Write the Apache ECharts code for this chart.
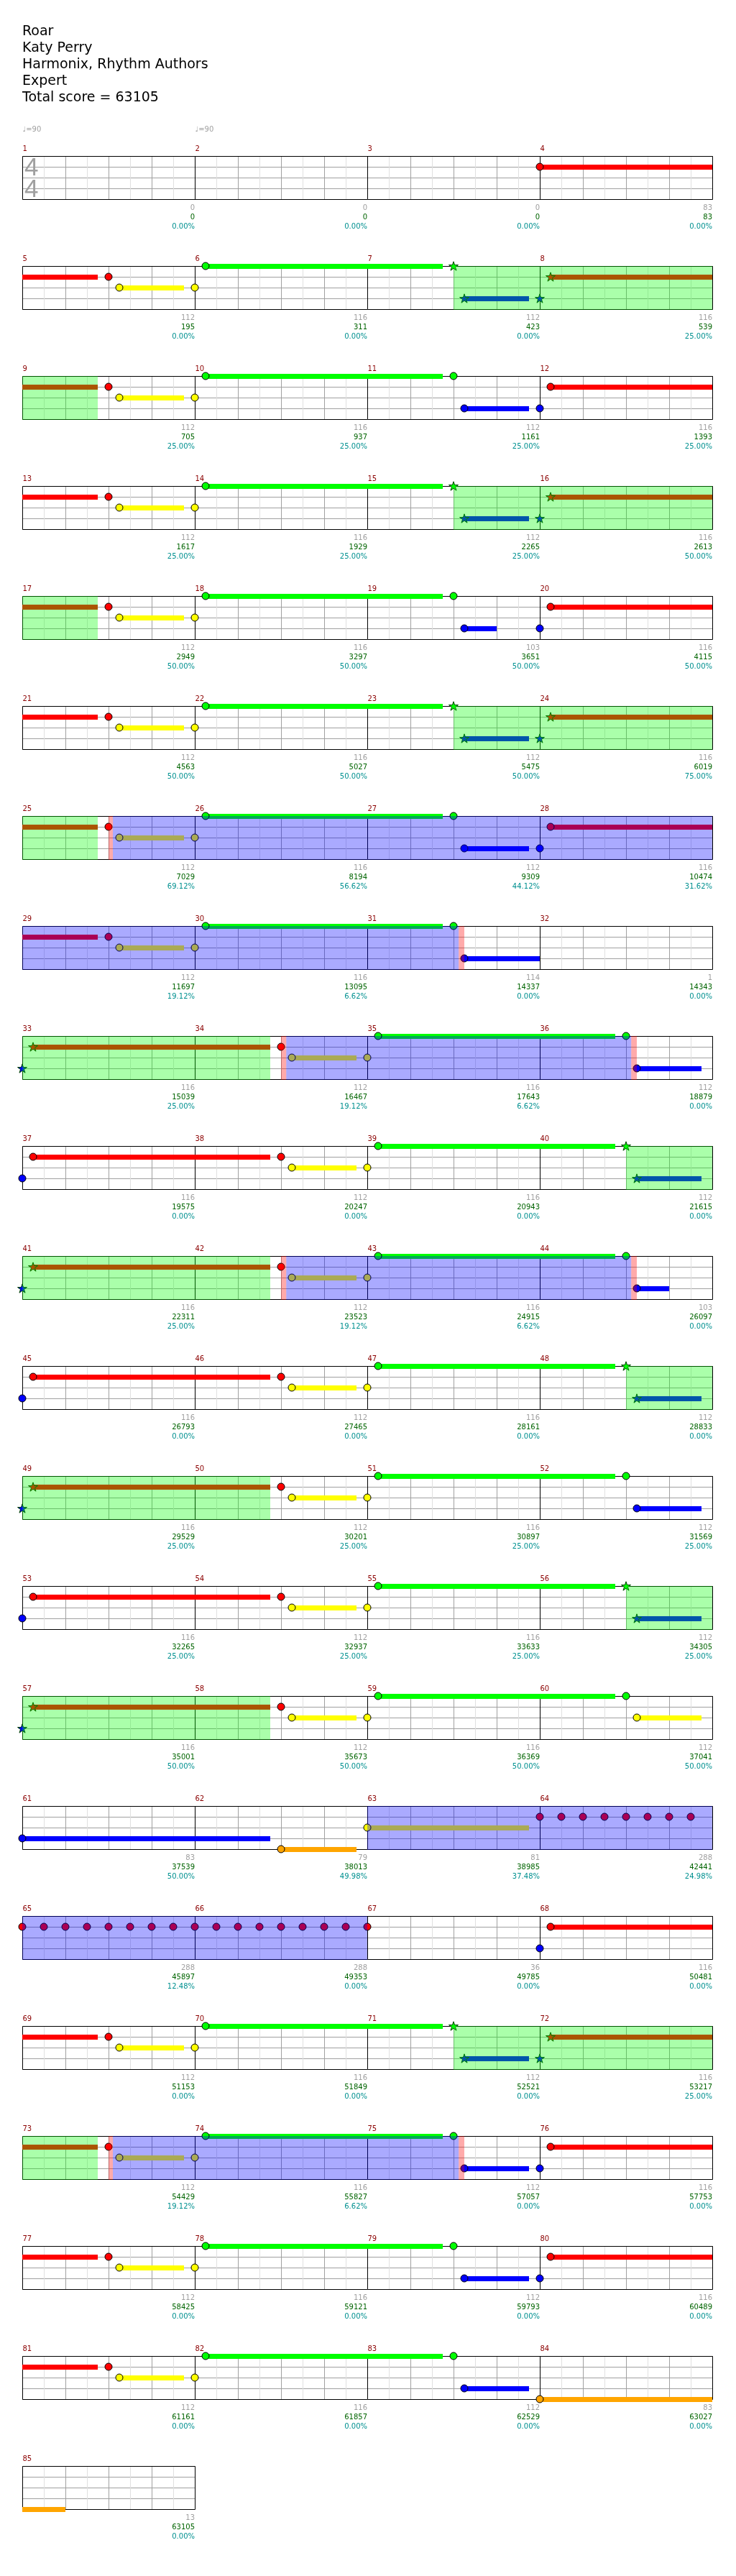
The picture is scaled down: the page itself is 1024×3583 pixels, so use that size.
<!DOCTYPE html>
<html><head><meta charset="utf-8">
<script src="https://cdn.jsdelivr.net/npm/echarts@6/dist/echarts.min.js"></script>
<style>html,body{margin:0;padding:0;background:#fff}#c{width:1024px;height:3583px}</style>
</head><body><div id="c"></div>
<script>
// ---------------- DATA ----------------
const headerLines = ['Roar', 'Katy Perry', 'Harmonix, Rhythm Authors', 'Expert', 'Total score = 63105'];
const measureCount = 85;
const beatsPerMeasure = 4;
const measuresPerRow = 4;
const tempoBeats = [0, 4];
const tempoValues = [90, 90];
const timeSignature = [4, 4];
const laneColors = ['#00ff00', '#ff0000', '#ffff00', '#0000ff', '#ffa500'];

// notes: [beat, lane (0=green..4=orange), sustain length in beats, star note (1/0)]
const notes = [
  [12,1,5.75,0],
  [18,1,0,0],[18.25,2,1.5,0],[20,2,0,0],[20.25,0,5.5,0],[26,0,0,1],[26.25,3,1.5,1],[28,3,0,1],[28.25,1,5.5,1],
  [34,1,0,0],[34.25,2,1.5,0],[36,2,0,0],[36.25,0,5.5,0],[42,0,0,0],[42.25,3,1.5,0],[44,3,0,0],[44.25,1,5.5,0],
  [50,1,0,0],[50.25,2,1.5,0],[52,2,0,0],[52.25,0,5.5,0],[58,0,0,1],[58.25,3,1.5,1],[60,3,0,1],[60.25,1,5.5,1],
  [66,1,0,0],[66.25,2,1.5,0],[68,2,0,0],[68.25,0,5.5,0],[74,0,0,0],[74.25,3,0.75,0],[76,3,0,0],[76.25,1,5.5,0],
  [82,1,0,0],[82.25,2,1.5,0],[84,2,0,0],[84.25,0,5.5,0],[90,0,0,1],[90.25,3,1.5,1],[92,3,0,1],[92.25,1,5.5,1],
  [98,1,0,0],[98.25,2,1.5,0],[100,2,0,0],[100.25,0,5.5,0],[106,0,0,0],[106.25,3,1.5,0],[108,3,0,0],[108.25,1,5.5,0],
  [114,1,0,0],[114.25,2,1.5,0],[116,2,0,0],[116.25,0,5.5,0],[122,0,0,0],[122.25,3,1.75,0],
  [128,3,0,1],[128.25,1,5.5,1],[134,1,0,0],[134.25,2,1.5,0],[136,2,0,0],[136.25,0,5.5,0],[142,0,0,0],[142.25,3,1.5,0],
  [144,3,0,0],[144.25,1,5.5,0],[150,1,0,0],[150.25,2,1.5,0],[152,2,0,0],[152.25,0,5.5,0],[158,0,0,1],[158.25,3,1.5,1],
  [160,3,0,1],[160.25,1,5.5,1],[166,1,0,0],[166.25,2,1.5,0],[168,2,0,0],[168.25,0,5.5,0],[174,0,0,0],[174.25,3,0.75,0],
  [176,3,0,0],[176.25,1,5.5,0],[182,1,0,0],[182.25,2,1.5,0],[184,2,0,0],[184.25,0,5.5,0],[190,0,0,1],[190.25,3,1.5,1],
  [192,3,0,1],[192.25,1,5.5,1],[198,1,0,0],[198.25,2,1.5,0],[200,2,0,0],[200.25,0,5.5,0],[206,0,0,0],[206.25,3,1.5,0],
  [208,3,0,0],[208.25,1,5.5,0],[214,1,0,0],[214.25,2,1.5,0],[216,2,0,0],[216.25,0,5.5,0],[222,0,0,1],[222.25,3,1.5,1],
  [224,3,0,1],[224.25,1,5.5,1],[230,1,0,0],[230.25,2,1.5,0],[232,2,0,0],[232.25,0,5.5,0],[238,0,0,0],[238.25,2,1.5,0],
  [240,3,5.75,0],[246,4,1.75,0],[248,2,3.75,0],
  [252,1,0,0],[252.5,1,0,0],[253,1,0,0],[253.5,1,0,0],[254,1,0,0],[254.5,1,0,0],[255,1,0,0],[255.5,1,0,0],
  [256,1,0,0],[256.5,1,0,0],[257,1,0,0],[257.5,1,0,0],[258,1,0,0],[258.5,1,0,0],[259,1,0,0],[259.5,1,0,0],
  [260,1,0,0],[260.5,1,0,0],[261,1,0,0],[261.5,1,0,0],[262,1,0,0],[262.5,1,0,0],[263,1,0,0],[263.5,1,0,0],[264,1,0,0],
  [268,3,0,0],[268.25,1,5.5,0],
  [274,1,0,0],[274.25,2,1.5,0],[276,2,0,0],[276.25,0,5.5,0],[282,0,0,1],[282.25,3,1.5,1],[284,3,0,1],[284.25,1,5.5,1],
  [290,1,0,0],[290.25,2,1.5,0],[292,2,0,0],[292.25,0,5.5,0],[298,0,0,0],[298.25,3,1.5,0],[300,3,0,0],[300.25,1,5.5,0],
  [306,1,0,0],[306.25,2,1.5,0],[308,2,0,0],[308.25,0,5.5,0],[314,0,0,0],[314.25,3,1.5,0],[316,3,0,0],[316.25,1,5.5,0],
  [322,1,0,0],[322.25,2,1.5,0],[324,2,0,0],[324.25,0,5.5,0],[330,0,0,0],[330.25,3,1.5,0],[332,4,5,0]
];

// star power phrases [startBeat, endBeat]
const starPhrases = [[26,33.75],[58,65.75],[90,97.75],[128,133.75],[158,165.75],[190,197.75],[222,229.75],[282,289.75]];
// overdrive (active star power) zones
const overdriveZones = [[98.1,122.12],[134.12,142.12],[166.12,174.12],[248,264],[290.1,298.12]];
// activation / end markers
const activationBands = [[98,98.1],[122.12,122.25],[134,134.12],[142.12,142.25],[166,166.12],[174.12,174.25],[290,290.1],[298.12,298.25]];

// per measure values
const measureNoteScores = [0,0,0,83, 112,116,112,116, 112,116,112,116, 112,116,112,116, 112,116,103,116,
  112,116,112,116, 112,116,112,116, 112,116,114,1, 116,112,116,112, 116,112,116,112, 116,112,116,103,
  116,112,116,112, 116,112,116,112, 116,112,116,112, 116,112,116,112, 83,79,81,288, 288,288,36,116,
  112,116,112,116, 112,116,112,116, 112,116,112,116, 112,116,112,83, 13];
const measureTotals = [0,0,0,83, 195,311,423,539, 705,937,1161,1393, 1617,1929,2265,2613, 2949,3297,3651,4115,
  4563,5027,5475,6019, 7029,8194,9309,10474, 11697,13095,14337,14343, 15039,16467,17643,18879,
  19575,20247,20943,21615, 22311,23523,24915,26097, 26793,27465,28161,28833, 29529,30201,30897,31569,
  32265,32937,33633,34305, 35001,35673,36369,37041, 37539,38013,38985,42441, 45897,49353,49785,50481,
  51153,51849,52521,53217, 54429,55827,57057,57753, 58425,59121,59793,60489, 61161,61857,62529,63027, 63105];
const measurePercents = ['0.00','0.00','0.00','0.00', '0.00','0.00','0.00','25.00', '25.00','25.00','25.00','25.00',
  '25.00','25.00','25.00','50.00', '50.00','50.00','50.00','50.00', '50.00','50.00','50.00','75.00',
  '69.12','56.62','44.12','31.62', '19.12','6.62','0.00','0.00', '25.00','19.12','6.62','0.00',
  '0.00','0.00','0.00','0.00', '25.00','19.12','6.62','0.00', '0.00','0.00','0.00','0.00',
  '25.00','25.00','25.00','25.00', '25.00','25.00','25.00','25.00', '50.00','50.00','50.00','50.00',
  '50.00','49.98','37.48','24.98', '12.48','0.00','0.00','0.00', '0.00','0.00','0.00','25.00',
  '19.12','6.62','0.00','0.00', '0.00','0.00','0.00','0.00', '0.00','0.00','0.00','0.00', '0.00'];

// ---------------- LAYOUT ----------------
const L = { left: 31, top0: 217, pitch: 153, measureW: 240, staffH: 60 };
const starPath = 'path://M100,0 L122.45,69.1 L195.1,69.1 L136.3,111.8 L158.8,180.9 L100,138.2 L41.2,180.9 L63.7,111.8 L4.9,69.1 L77.55,69.1 Z';
const FONT = '"DejaVu Sans", Verdana, sans-serif';

const chart = echarts.init(document.getElementById('c'), null, { renderer: 'canvas' });
const rows = Math.ceil(measureCount / measuresPerRow);
const grids = [], xAxes = [], yAxes = [], series = [];
const px = v => Math.round(v) + 0.5;

function clipRanges(list, x0, x1) {
  const out = [];
  list.forEach(r => {
    const s = Math.max(r[0], x0), e = Math.min(r[1], x1);
    if (e > s) out.push([s, e]);
  });
  return out;
}

for (let r = 0; r < rows; r++) {
  const firstM = r * measuresPerRow;
  const nM = Math.min(measuresPerRow, measureCount - firstM);
  const x0 = firstM * beatsPerMeasure, x1 = (firstM + nM) * beatsPerMeasure;
  grids.push({ left: L.left, top: L.top0 + L.pitch * r, width: L.measureW * nM, height: L.staffH, show: false });
  xAxes.push({
    type: 'value', gridIndex: r, min: x0, max: x1, interval: 1,
    axisLine: { show: false }, axisTick: { show: false }, axisLabel: { show: false },
    splitLine: { show: true, lineStyle: { color: '#a0a0a0', width: 1 } },
    minorTick: { show: false, splitNumber: 2 },
    minorSplitLine: { show: true, lineStyle: { color: '#e0e0e0', width: 1 } }
  });
  yAxes.push({
    type: 'value', gridIndex: r, min: 0, max: 4, interval: 1, inverse: true,
    axisLine: { show: false }, axisTick: { show: false }, axisLabel: { show: false },
    splitLine: { show: true, lineStyle: { color: '#a0a0a0', width: 1 } }
  });
  const common = { xAxisIndex: r, yAxisIndex: r, coordinateSystem: 'cartesian2d', silent: true, animation: false };

  // frame: border + measure lines
  const measureLines = [];
  for (let m = 1; m < nM; m++) measureLines.push([x0 + m * beatsPerMeasure, 0]);
  series.push(Object.assign({}, common, {
    type: 'custom', z: 3, clip: false,
    data: [[x0, 0, x1]].concat(measureLines.map(v => [v[0], 0, -1])),
    renderItem(params, api) {
      const a = api.value(0), b = api.value(2);
      if (b < 0) {
        const p = api.coord([a, 0]), q = api.coord([a, 4]);
        return { type: 'line', shape: { x1: px(p[0]), y1: p[1], x2: px(p[0]), y2: q[1] }, style: { stroke: '#000', lineWidth: 1 } };
      }
      const tl = api.coord([a, 0]), br = api.coord([b, 4]);
      return { type: 'rect', shape: { x: px(tl[0]), y: px(tl[1]), width: Math.round(br[0] - tl[0]), height: Math.round(br[1] - tl[1]) },
        style: { fill: null, stroke: '#000', lineWidth: 1 } };
    }
  }));

  // sustains
  const sus = [];
  notes.forEach(n => {
    if (n[2] > 0) {
      const s = Math.max(n[0], x0), e = Math.min(n[0] + n[2], x1);
      if (e > s) sus.push([s, n[1], e]);
    }
  });
  series.push(Object.assign({}, common, {
    type: 'custom', z: 4, clip: false, data: sus,
    renderItem(params, api) {
      const lane = api.value(1);
      const p = api.coord([api.value(0), lane]), q = api.coord([api.value(2), lane]);
      const y = Math.round(p[1]);
      return { type: 'rect', shape: { x: p[0], y: y - 3, width: q[0] - p[0], height: 7 }, style: { fill: laneColors[lane] } };
    }
  }));

  // notes
  const nd = notes.filter(n => n[0] >= x0 && n[0] < x1).map(n => ({
    value: [n[0], n[1]],
    symbol: n[3] ? starPath : 'circle',
    symbolSize: n[3] ? [13, 13] : [10, 10],
    symbolKeepAspect: true,
    itemStyle: { color: laneColors[n[1]], borderColor: n[3] ? '#004000' : '#000', borderWidth: 1, opacity: 1 }
  }));
  series.push(Object.assign({}, common, { type: 'scatter', z: 5, clip: false, data: nd }));

  // overlays
  const ov = [];
  clipRanges(starPhrases, x0, x1).forEach(v => ov.push([v[0], 0, v[1], 0]));
  clipRanges(overdriveZones, x0, x1).forEach(v => ov.push([v[0], 0, v[1], 1]));
  clipRanges(activationBands, x0, x1).forEach(v => ov.push([v[0], 0, v[1], 2]));
  const ovColors = ['rgba(0,255,0,0.333)', 'rgba(0,0,255,0.333)', 'rgba(255,0,0,0.333)'];
  series.push(Object.assign({}, common, {
    type: 'custom', z: 6, clip: false, data: ov,
    renderItem(params, api) {
      const tl = api.coord([api.value(0), 0]), br = api.coord([api.value(2), 4]);
      return { type: 'rect', shape: { x: tl[0], y: Math.round(tl[1]), width: br[0] - tl[0], height: Math.round(br[1] - tl[1]) + 1 },
        style: { fill: ovColors[api.value(3)] } };
    }
  }));

  // measure labels
  const md = [];
  for (let m = 0; m < nM; m++) md.push([x0 + m * beatsPerMeasure, 0, firstM + m]);
  series.push(Object.assign({}, common, {
    type: 'custom', z: 7, clip: false, data: md,
    renderItem(params, api) {
      const s = api.value(0), mi = api.value(2);
      const top = api.coord([s, 0]), end = api.coord([s + beatsPerMeasure, 4]);
      const f = '10px ' + FONT;
      return { type: 'group', children: [
        { type: 'text', x: top[0] + 0.5, y: top[1] - 10, style: { text: String(mi + 1), fill: '#8b0000', font: f, align: 'left', verticalAlign: 'middle' } },
        { type: 'text', x: end[0], y: end[1] + 12.2, style: { text: String(measureNoteScores[mi]), fill: '#a0a0a0', font: f, align: 'right', verticalAlign: 'middle' } },
        { type: 'text', x: end[0], y: end[1] + 25.2, style: { text: String(measureTotals[mi]), fill: '#006400', font: f, align: 'right', verticalAlign: 'middle' } },
        { type: 'text', x: end[0], y: end[1] + 38.5, style: { text: measurePercents[mi] + '%', fill: '#009090', font: f, align: 'right', verticalAlign: 'middle' } }
      ] };
    }
  }));

  if (r === 0) {
    // tempo markers
    series.push(Object.assign({}, common, {
      type: 'custom', z: 7, clip: false, data: tempoBeats.map((b, i) => [b, 0, i]),
      renderItem(params, api) {
        const p = api.coord([api.value(0), 0]);
        return { type: 'text', x: p[0] + 0.5, y: p[1] - 36.5, style: { text: '\u2669=' + tempoValues[api.value(2)], fill: '#a0a0a0', font: '10px ' + FONT, align: 'left', verticalAlign: 'middle' } };
      }
    }));
    // time signature
    series.push(Object.assign({}, common, {
      type: 'custom', z: 4, clip: false, data: [[x0, 1, 0], [x0, 3, 1]],
      renderItem(params, api) {
        const p = api.coord([api.value(0), api.value(1)]);
        return { type: 'text', x: p[0] + 3, y: p[1] + 2.5, style: { text: String(timeSignature[api.value(2)]), fill: '#a0a0a0', font: '35px "Liberation Sans", Arial, sans-serif', align: 'left', verticalAlign: 'middle' } };
      }
    }));
  }
}

const option = {
  backgroundColor: '#ffffff',
  animation: false,
  grid: grids, xAxis: xAxes, yAxis: yAxes, series: series,
  graphic: { elements: headerLines.map((t, i) => ({
    type: 'text', x: 31, y: 43.7 + 23 * i, silent: true,
    style: { text: t, fill: '#000', font: '19px ' + FONT, align: 'left', verticalAlign: 'middle' }
  })) }
};
chart.setOption(option);
</script></body></html>
